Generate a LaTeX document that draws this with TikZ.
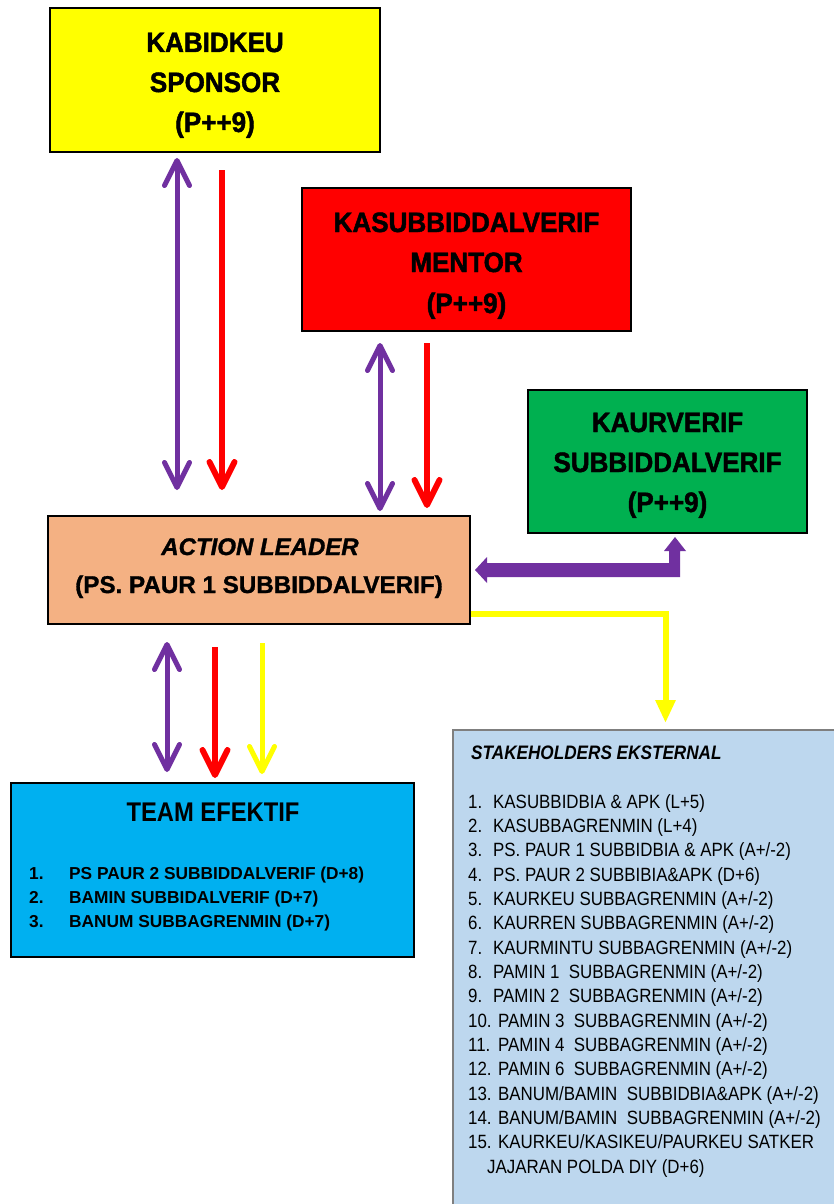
\documentclass[tikz,border=0pt]{standalone}
\usepackage{fontspec}
\setmainfont{Liberation Sans}
\newfontfamily\condfont[FakeStretch=0.88]{Liberation Sans}
\newfontfamily\topfont[FakeStretch=0.93, BoldFeatures={FakeBold=1.6}]{Liberation Sans}
\newfontfamily\leadfont[BoldFeatures={FakeBold=1.2}, BoldItalicFeatures={FakeBold=1.2}]{Liberation Sans}
\usetikzlibrary{arrows.meta}
\definecolor{cPurple}{HTML}{7030A0}
\definecolor{cRed}{HTML}{FF0000}
\definecolor{cYellow}{HTML}{FFFF00}
\definecolor{cGreen}{HTML}{00B050}
\definecolor{cOrange}{HTML}{F4B183}
\definecolor{cBlue}{HTML}{00B0F0}
\definecolor{cLight}{HTML}{BDD7EE}
\definecolor{cGrey}{HTML}{7F7F7F}
\begin{document}
\begin{tikzpicture}[x=1pt,y=-1pt,
  box/.style={draw=black, line width=1.5pt, inner sep=0pt},
  toptxt/.style={font=\topfont\bfseries\fontsize{28}{28}\selectfont, anchor=base, inner sep=0pt},
  leadtxt/.style={font=\leadfont\bfseries\fontsize{24.2}{24.2}\selectfont, anchor=base, inner sep=0pt},
  teamtxt/.style={font=\bfseries\fontsize{17.3}{17.3}\selectfont, anchor=base west, inner sep=0pt},
  stxt/.style={font=\condfont\fontsize{19.2}{19.2}\selectfont, anchor=base west, inner sep=0pt},
  barb/.tip={Straight Barb[length=25pt,width=25pt,line cap=round,line join=round]},
  pdbl/.style={draw=cPurple, line width=5pt, {barb}-{barb}},
  rarr/.style={draw=cRed, line width=6pt, -{barb}},
  yarr/.style={draw=cYellow, line width=5pt, -{barb}}
]
\useasboundingbox (0,0) rectangle (833,1204);
\fill[white] (0,0) rectangle (833,1204);

% boxes
\node[box, fill=cYellow, minimum width=330pt, minimum height=144pt] (kabid) at (215,80) {};
\node[box, fill=cRed, minimum width=329pt, minimum height=143pt] (kasub) at (466.5,259.5) {};
\node[box, fill=cGreen, minimum width=279pt, minimum height=143pt] (kaur) at (667.5,461.5) {};
\node[box, fill=cOrange, minimum width=422pt, minimum height=108pt] (lead) at (259,570) {};
\node[box, fill=cBlue, minimum width=403pt, minimum height=174pt] (team) at (212.5,870) {};
\node[draw=cGrey, line width=1.5pt, fill=cLight, inner sep=0pt, minimum width=387pt, minimum height=480pt] (stake) at (646.5,970) {};

% top box texts
\node[toptxt] (k1) at (215,52) {KABIDKEU};
\node[toptxt] (k2) at (215,92) {SPONSOR};
\node[toptxt] (k3) at (215,132) {(P++9)};
\node[toptxt] (m1) at (466.5,232) {KASUBBIDDALVERIF};
\node[toptxt] (m2) at (466.5,272) {MENTOR};
\node[toptxt] (m3) at (466.5,313) {(P++9)};
\node[toptxt] (g1) at (667.5,432) {KAURVERIF};
\node[toptxt] (g2) at (667.5,472) {SUBBIDDALVERIF};
\node[toptxt] (g3) at (667.5,512) {(P++9)};

% action leader
\node[leadtxt, font=\leadfont\bfseries\itshape\fontsize{24}{24}\selectfont] (l1) at (260,555) {ACTION LEADER};
\node[leadtxt] (l2) at (259,593) {(PS. PAUR 1 SUBBIDDALVERIF)};

% team
\node[font=\condfont\bfseries\fontsize{27}{27}\selectfont, anchor=base, inner sep=0pt] (tt) at (213,821) {TEAM EFEKTIF};
\node[teamtxt] (tn1) at (29,879) {1.};
\node[teamtxt] (ti1) at (69,879) {PS PAUR 2 SUBBIDDALVERIF (D+8)};
\node[teamtxt] (tn2) at (29,903) {2.};
\node[teamtxt] (ti2) at (69,903) {BAMIN SUBBIDALVERIF (D+7)};
\node[teamtxt] (tn3) at (29,927) {3.};
\node[teamtxt] (ti3) at (69,927) {BANUM SUBBAGRENMIN (D+7)};

% stakeholders
\node[font=\condfont\bfseries\itshape\fontsize{19.5}{19.5}\selectfont, anchor=base west, inner sep=0pt] (sh) at (471,759) {STAKEHOLDERS EKSTERNAL};
\node[stxt] (sn1) at (468,808) {1.};
\node[stxt] (si1) at (493,808) {KASUBBIDBIA \& APK (L+5)};
\node[stxt] (sn2) at (468,832.3) {2.};
\node[stxt] (si2) at (493,832.3) {KASUBBAGRENMIN (L+4)};
\node[stxt] (sn3) at (468,856.7) {3.};
\node[stxt] (si3) at (493,856.7) {PS. PAUR 1 SUBBIDBIA \& APK (A+/-2)};
\node[stxt] (sn4) at (468,881) {4.};
\node[stxt] (si4) at (493,881) {PS. PAUR 2 SUBBIBIA\&APK (D+6)};
\node[stxt] (sn5) at (468,905.3) {5.};
\node[stxt] (si5) at (493,905.3) {KAURKEU SUBBAGRENMIN (A+/-2)};
\node[stxt] (sn6) at (468,929.7) {6.};
\node[stxt] (si6) at (493,929.7) {KAURREN SUBBAGRENMIN (A+/-2)};
\node[stxt] (sn7) at (468,954) {7.};
\node[stxt] (si7) at (493,954) {KAURMINTU SUBBAGRENMIN (A+/-2)};
\node[stxt] (sn8) at (468,978.3) {8.};
\node[stxt] (si8) at (493,978.3) {PAMIN 1\ \ SUBBAGRENMIN (A+/-2)};
\node[stxt] (sn9) at (468,1002.7) {9.};
\node[stxt] (si9) at (493,1002.7) {PAMIN 2\ \ SUBBAGRENMIN (A+/-2)};
\node[stxt] (sn10) at (468,1027) {10.};
\node[stxt] (si10) at (498,1027) {PAMIN 3\ \ SUBBAGRENMIN (A+/-2)};
\node[stxt] (sn11) at (468,1051.3) {11.};
\node[stxt] (si11) at (498,1051.3) {PAMIN 4\ \ SUBBAGRENMIN (A+/-2)};
\node[stxt] (sn12) at (468,1075.7) {12.};
\node[stxt] (si12) at (498,1075.7) {PAMIN 6\ \ SUBBAGRENMIN (A+/-2)};
\node[stxt] (sn13) at (468,1100) {13.};
\node[stxt] (si13) at (498,1100) {BANUM/BAMIN\ \ SUBBIDBIA\&APK (A+/-2)};
\node[stxt] (sn14) at (468,1124.3) {14.};
\node[stxt] (si14) at (498,1124.3) {BANUM/BAMIN\ \ SUBBAGRENMIN (A+/-2)};
\node[stxt] (sn15) at (468,1148.7) {15.};
\node[stxt] (si15) at (498,1148.7) {KAURKEU/KASIKEU/PAURKEU SATKER};
\node[stxt] (si15b) at (487,1173) {JAJARAN POLDA DIY (D+6)};

% arrow end points
\coordinate (a1s) at (177,158); \coordinate (a1e) at (177,490);
\coordinate (a2s) at (222,170); \coordinate (a2e) at (222,490);
\coordinate (a3s) at (380,343); \coordinate (a3e) at (380,511);
\coordinate (a4s) at (427,343); \coordinate (a4e) at (427,508);
\coordinate (a5s) at (167,642); \coordinate (a5e) at (167,772);
\coordinate (a6s) at (215,647); \coordinate (a6e) at (215,778);
\coordinate (a7s) at (262,643); \coordinate (a7e) at (262,774);

\draw[pdbl] (a1s) -- (a1e);
\draw[rarr] (a2s) -- (a2e);
\draw[pdbl] (a3s) -- (a3e);
\draw[rarr] (a4s) -- (a4e);
\draw[pdbl] (a5s) -- (a5e);
\draw[rarr] (a6s) -- (a6e);
\draw[yarr] (a7s) -- (a7e);

% yellow L connector to stakeholders
\coordinate (ys) at (471,613.5);
\coordinate (yc) at (665.5,613.5);
\coordinate (ye) at (665.5,723);
\draw[cYellow, line width=6pt, line join=miter, -{Triangle[length=23pt,width=19pt]}] (ys) -- (yc) -- (ye);

% purple block arrow (action leader <-> kaurverif)
\fill[cPurple] (475,570) -- (487,557) -- (487,563) -- (669,563) -- (669,551) -- (664,551)
  -- (675,537) -- (686,551) -- (680,551) -- (680,577) -- (487,577) -- (487,583) -- cycle;
\end{tikzpicture}
\end{document}
